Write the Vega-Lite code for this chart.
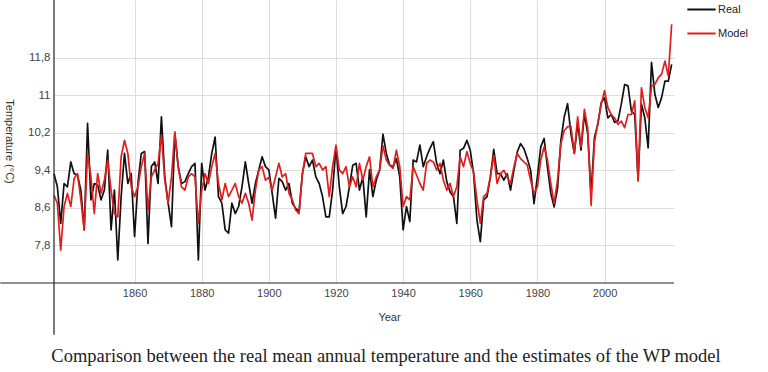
{
  "$schema": "https://vega.github.io/schema/vega-lite/v6.json",
  "width": 620,
  "height": 283,
  "autosize": {"type": "none"},
  "padding": {"left": 54, "top": 0, "right": 94, "bottom": 89},
  "background": "white",
  "config": {
    "view": {"stroke": null},
    "font": "Liberation Sans"
  },
  "title": {
    "text": "Comparison between the real mean annual temperature and the estimates of the WP model",
    "orient": "bottom",
    "anchor": "middle",
    "font": "Liberation Serif",
    "fontSize": 18.5,
    "fontWeight": "normal",
    "color": "#222222",
    "dx": 22,
    "offset": 12
  },
  "datasets": {
    "temps": [
      {"year":1836,"Real":9.33,"Model":8.87},{"year":1837,"Real":9.05,"Model":8.70},{"year":1838,"Real":8.27,"Model":7.70},{"year":1839,"Real":9.12,"Model":8.63},{"year":1840,"Real":9.05,"Model":8.91},
      {"year":1841,"Real":9.58,"Model":8.63},{"year":1842,"Real":9.33,"Model":9.23},{"year":1843,"Real":9.30,"Model":9.33},{"year":1844,"Real":8.98,"Model":8.77},{"year":1845,"Real":8.13,"Model":8.13},
      {"year":1846,"Real":10.40,"Model":9.76},{"year":1847,"Real":8.77,"Model":9.26},{"year":1848,"Real":9.12,"Model":8.48},{"year":1849,"Real":9.09,"Model":9.33},{"year":1850,"Real":8.77,"Model":8.91},
      {"year":1851,"Real":8.98,"Model":9.19},{"year":1852,"Real":9.83,"Model":9.62},{"year":1853,"Real":8.13,"Model":8.98},{"year":1854,"Real":8.98,"Model":8.48},{"year":1855,"Real":7.49,"Model":8.41},
      {"year":1856,"Real":8.84,"Model":9.69},{"year":1857,"Real":9.76,"Model":10.04},{"year":1858,"Real":9.12,"Model":9.76},{"year":1859,"Real":9.33,"Model":9.05},{"year":1860,"Real":7.99,"Model":8.84},
      {"year":1861,"Real":9.12,"Model":9.05},{"year":1862,"Real":9.76,"Model":9.48},{"year":1863,"Real":9.80,"Model":9.76},{"year":1864,"Real":7.84,"Model":8.55},{"year":1865,"Real":9.48,"Model":9.26},
      {"year":1866,"Real":9.58,"Model":9.41},{"year":1867,"Real":9.12,"Model":9.55},{"year":1868,"Real":10.54,"Model":10.15},{"year":1869,"Real":9.26,"Model":9.19},{"year":1870,"Real":8.70,"Model":8.70},
      {"year":1871,"Real":8.20,"Model":9.26},{"year":1872,"Real":10.19,"Model":10.22},{"year":1873,"Real":9.48,"Model":9.48},{"year":1874,"Real":9.12,"Model":9.05},{"year":1875,"Real":9.16,"Model":8.98},
      {"year":1876,"Real":9.33,"Model":9.26},{"year":1877,"Real":9.48,"Model":9.33},{"year":1878,"Real":9.55,"Model":9.26},{"year":1879,"Real":7.49,"Model":8.27},{"year":1880,"Real":9.55,"Model":8.98},
      {"year":1881,"Real":8.98,"Model":9.33},{"year":1882,"Real":9.26,"Model":9.12},{"year":1883,"Real":9.76,"Model":9.48},{"year":1884,"Real":10.11,"Model":9.76},{"year":1885,"Real":8.84,"Model":9.12},
      {"year":1886,"Real":8.70,"Model":8.77},{"year":1887,"Real":8.13,"Model":9.12},{"year":1888,"Real":8.06,"Model":8.84},{"year":1889,"Real":8.70,"Model":8.98},{"year":1890,"Real":8.48,"Model":9.12},
      {"year":1891,"Real":8.63,"Model":8.84},{"year":1892,"Real":9.05,"Model":8.70},{"year":1893,"Real":9.58,"Model":8.91},{"year":1894,"Real":9.12,"Model":8.70},{"year":1895,"Real":8.70,"Model":8.34},
      {"year":1896,"Real":9.12,"Model":8.98},{"year":1897,"Real":9.41,"Model":9.41},{"year":1898,"Real":9.69,"Model":9.48},{"year":1899,"Real":9.48,"Model":9.19},{"year":1900,"Real":9.41,"Model":9.25},
      {"year":1901,"Real":8.91,"Model":8.98},{"year":1902,"Real":8.38,"Model":9.26},{"year":1903,"Real":9.23,"Model":9.55},{"year":1904,"Real":9.16,"Model":9.26},{"year":1905,"Real":8.98,"Model":9.33},
      {"year":1906,"Real":9.12,"Model":8.91},{"year":1907,"Real":8.70,"Model":8.77},{"year":1908,"Real":8.59,"Model":8.55},{"year":1909,"Real":8.52,"Model":8.48},{"year":1910,"Real":9.33,"Model":9.33},
      {"year":1911,"Real":9.69,"Model":9.76},{"year":1912,"Real":9.48,"Model":9.76},{"year":1913,"Real":9.62,"Model":9.76},{"year":1914,"Real":9.26,"Model":9.48},{"year":1915,"Real":9.12,"Model":9.55},
      {"year":1916,"Real":8.84,"Model":9.41},{"year":1917,"Real":8.41,"Model":9.48},{"year":1918,"Real":8.41,"Model":8.84},{"year":1919,"Real":8.98,"Model":9.48},{"year":1920,"Real":9.90,"Model":9.94},
      {"year":1921,"Real":9.05,"Model":9.41},{"year":1922,"Real":8.48,"Model":9.33},{"year":1923,"Real":8.63,"Model":9.48},{"year":1924,"Real":9.05,"Model":9.05},{"year":1925,"Real":9.51,"Model":9.26},
      {"year":1926,"Real":9.55,"Model":9.05},{"year":1927,"Real":8.98,"Model":9.55},{"year":1928,"Real":9.26,"Model":9.19},{"year":1929,"Real":8.41,"Model":9.48},{"year":1930,"Real":9.41,"Model":9.69},
      {"year":1931,"Real":8.84,"Model":9.05},{"year":1932,"Real":9.19,"Model":9.26},{"year":1933,"Real":9.41,"Model":9.41},{"year":1934,"Real":10.17,"Model":9.92},{"year":1935,"Real":9.76,"Model":9.62},
      {"year":1936,"Real":9.51,"Model":9.51},{"year":1937,"Real":9.48,"Model":9.44},{"year":1938,"Real":9.65,"Model":9.83},{"year":1939,"Real":9.26,"Model":9.48},{"year":1940,"Real":8.13,"Model":8.63},
      {"year":1941,"Real":8.63,"Model":8.84},{"year":1942,"Real":8.31,"Model":8.77},{"year":1943,"Real":9.62,"Model":9.48},{"year":1944,"Real":9.58,"Model":9.30},{"year":1945,"Real":9.94,"Model":9.12},
      {"year":1946,"Real":9.48,"Model":8.98},{"year":1947,"Real":9.69,"Model":9.55},{"year":1948,"Real":9.87,"Model":9.62},{"year":1949,"Real":10.01,"Model":9.58},{"year":1950,"Real":9.55,"Model":9.41},
      {"year":1951,"Real":9.33,"Model":9.55},{"year":1952,"Real":9.62,"Model":9.19},{"year":1953,"Real":9.16,"Model":8.98},{"year":1954,"Real":8.94,"Model":9.12},{"year":1955,"Real":8.84,"Model":8.84},
      {"year":1956,"Real":8.27,"Model":9.05},{"year":1957,"Real":9.83,"Model":9.69},{"year":1958,"Real":9.87,"Model":9.48},{"year":1959,"Real":10.04,"Model":9.80},{"year":1960,"Real":9.83,"Model":9.55},
      {"year":1961,"Real":9.33,"Model":9.37},{"year":1962,"Real":8.34,"Model":8.77},{"year":1963,"Real":7.88,"Model":8.27},{"year":1964,"Real":8.77,"Model":8.84},{"year":1965,"Real":8.84,"Model":8.91},
      {"year":1966,"Real":9.26,"Model":9.26},{"year":1967,"Real":9.85,"Model":9.72},{"year":1968,"Real":9.33,"Model":9.12},{"year":1969,"Real":9.33,"Model":9.33},{"year":1970,"Real":9.19,"Model":9.40},
      {"year":1971,"Real":9.33,"Model":9.26},{"year":1972,"Real":8.98,"Model":9.12},{"year":1973,"Real":9.40,"Model":9.47},{"year":1974,"Real":9.79,"Model":9.76},{"year":1975,"Real":9.97,"Model":9.65},
      {"year":1976,"Real":9.86,"Model":9.58},{"year":1977,"Real":9.65,"Model":9.51},{"year":1978,"Real":9.40,"Model":9.19},{"year":1979,"Real":8.69,"Model":8.91},{"year":1980,"Real":9.26,"Model":9.05},
      {"year":1981,"Real":9.90,"Model":9.62},{"year":1982,"Real":10.08,"Model":9.90},{"year":1983,"Real":9.47,"Model":9.62},{"year":1984,"Real":8.91,"Model":9.12},{"year":1985,"Real":8.62,"Model":8.69},
      {"year":1986,"Real":9.01,"Model":9.19},{"year":1987,"Real":10.04,"Model":9.97},{"year":1988,"Real":10.54,"Model":10.25},{"year":1989,"Real":10.82,"Model":10.33},{"year":1990,"Real":10.18,"Model":10.33},
      {"year":1991,"Real":9.76,"Model":9.76},{"year":1992,"Real":10.40,"Model":10.54},{"year":1993,"Real":9.83,"Model":9.90},{"year":1994,"Real":10.61,"Model":10.70},{"year":1995,"Real":10.18,"Model":10.30},
      {"year":1996,"Real":8.90,"Model":8.65},{"year":1997,"Real":10.10,"Model":10.00},{"year":1998,"Real":10.38,"Model":10.40},{"year":1999,"Real":10.84,"Model":10.80},{"year":2000,"Real":10.95,"Model":11.10},
      {"year":2001,"Real":10.52,"Model":10.74},{"year":2002,"Real":10.59,"Model":10.59},{"year":2003,"Real":10.42,"Model":10.52},{"year":2004,"Real":10.45,"Model":10.38},{"year":2005,"Real":10.81,"Model":10.45},
      {"year":2006,"Real":11.23,"Model":10.31},{"year":2007,"Real":11.20,"Model":10.59},{"year":2008,"Real":10.66,"Model":10.59},{"year":2009,"Real":10.59,"Model":10.88},{"year":2010,"Real":9.20,"Model":9.17},
      {"year":2011,"Real":10.81,"Model":11.16},{"year":2012,"Real":10.52,"Model":10.74},{"year":2013,"Real":9.88,"Model":10.52},{"year":2014,"Real":11.70,"Model":11.20},{"year":2015,"Real":11.02,"Model":11.23},
      {"year":2016,"Real":10.74,"Model":11.37},{"year":2017,"Real":10.95,"Model":11.45},{"year":2018,"Real":11.30,"Model":11.73},{"year":2019,"Real":11.30,"Model":11.41},{"year":2020,"Real":11.66,"Model":12.51}
    ]
  },
  "layer": [
    {
      "data": {"name": "temps"},
      "transform": [{"fold": ["Real", "Model"], "as": ["series", "temp"]}],
      "mark": {"type": "line", "strokeWidth": 1.7, "strokeJoin": "round"},
      "encoding": {
        "x": {
          "field": "year", "type": "quantitative",
          "scale": {"domain": [1836, 2020.7], "nice": false, "zero": false},
          "axis": {
            "values": [1860, 1880, 1900, 1920, 1940, 1960, 1980, 2000],
            "format": "d",
            "grid": true, "gridColor": "#dddddd", "gridWidth": 1,
            "domain": false, "ticks": false,
            "labelPadding": 4, "labelFontSize": 11, "labelColor": "#444444", "labelFont": "Liberation Sans",
            "title": "Year", "titleFontSize": 11, "titleFontWeight": "normal", "titleColor": "#333333",
            "titleX": 335, "titleY": 34, "titleBaseline": "middle", "titleAnchor": null
          }
        },
        "y": {
          "field": "temp", "type": "quantitative",
          "scale": {"domain": [7, 13.03], "nice": false, "zero": false},
          "axis": {
            "values": [7.8, 8.6, 9.4, 10.2, 11, 11.8],
            "labelExpr": "replace(toString(datum.value), '.', ',')",
            "grid": true, "gridColor": "#dddddd", "gridWidth": 1,
            "domain": false, "ticks": false,
            "labelPadding": 4, "labelFontSize": 11.5, "labelColor": "#444444", "labelFont": "Liberation Sans",
            "title": "Temperature  (°C)", "titleFontSize": 11, "titleFontWeight": "normal", "titleColor": "#333333",
            "titleX": -46, "titleY": 141, "titleAngle": 90, "titleBaseline": "middle", "titleAlign": "center"
          }
        },
        "color": {
          "field": "series", "type": "nominal",
          "scale": {"domain": ["Real", "Model"], "range": ["#111111", "#e01e1e"]},
          "legend": {
            "orient": "none", "legendX": 632, "legendY": -6, "title": null,
            "symbolType": "stroke", "symbolSize": 800, "symbolStrokeWidth": 2,
            "labelFontSize": 11, "labelColor": "#222222", "labelOffset": 1, "rowPadding": 3
          }
        }
      }
    },
    {
      "data": {"values": [{}]},
      "mark": {"type": "rule", "color": "#222222", "strokeWidth": 1.2},
      "encoding": {
        "x": {"datum": 1820, "type": "quantitative"},
        "x2": {"datum": 2020.7},
        "y": {"datum": 7, "type": "quantitative"}
      }
    },
    {
      "data": {"values": [{}]},
      "mark": {"type": "rule", "color": "#222222", "strokeWidth": 1.2},
      "encoding": {
        "x": {"datum": 1836, "type": "quantitative"},
        "y": {"datum": 13.03, "type": "quantitative"},
        "y2": {"datum": 5.9}
      }
    }
  ]
}
